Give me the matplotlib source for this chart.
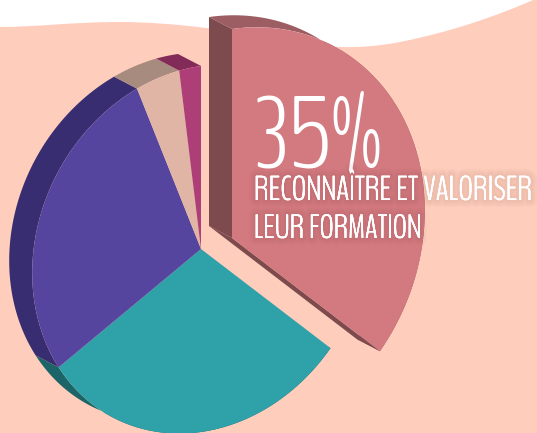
import numpy as np
import matplotlib
matplotlib.use("Agg")
import matplotlib.pyplot as plt
from matplotlib.path import Path
from matplotlib.patches import PathPatch
from matplotlib.transforms import Affine2D
import matplotlib.patheffects as pe

# data (clockwise from the top)
labels = ["Reconnaître et valoriser leur formation", "Teal", "Purple", "Beige", "Magenta"]
values = [35, 29, 27, 4, 2]
front_colors = ["#D37A80", "#2FA1A9", "#55459F", "#E0B5A5", "#AD3E78"]
side_colors = ["#9C5E62", "#1B6468", "#382D70", "#A68B7E", "#832B58"]
cut_color = "#7D4B4D"
big_text = "35%"
caption = ["RECONNAÎTRE ET VALORISER", "LEUR FORMATION"]

W, H = 537, 433
fig = plt.figure(figsize=(W / 100, H / 100), dpi=100, facecolor="white")
ax = fig.add_axes([0, 0, 1, 1])

wedges, _ = ax.pie(values, startangle=90, counterclock=False, radius=1,
                   colors=front_colors, wedgeprops=dict(linewidth=0))
ax.set_aspect("auto")
ax.set_xlim(0, W)
ax.set_ylim(H, 0)
ax.axis("off")

# tilted projection of the unit pie into pixel space
MX = np.array([[168.8, 0.0], [-23.8, -183.0]])
center = np.array([201.0, 249.0])
pink_center = np.array([232.0, 238.0])
pink_scale = 1.142
depth = np.array([-23.0, -12.0])


def project(xy, c, s):
    return (MX @ xy.T).T * s + c


def proj_tf(c, s):
    return Affine2D(np.array([[MX[0, 0] * s, MX[0, 1] * s, c[0]],
                              [MX[1, 0] * s, MX[1, 1] * s, c[1]],
                              [0, 0, 1]]))


# background
bg_verts = [(-2, 27), (40, 27), (70, 22), (120, 22), (170, 22), (230, 30), (280, 40),
            (320, 48), (360, 50), (400, 42), (450, 32), (495, 17), (540, -3),
            (540, 436), (-2, 436), (-2, 27)]
bg_codes = [Path.MOVETO] + [Path.CURVE4] * 12 + [Path.LINETO] * 2 + [Path.CLOSEPOLY]
ax.add_patch(PathPatch(Path(bg_verts, bg_codes), facecolor="#FFCDBB", edgecolor="none", zorder=0))

edges = np.cumsum([0] + values) / np.sum(values) * 2 * np.pi
for i, (a0, a1) in enumerate(zip(edges[:-1], edges[1:])):
    t = np.linspace(a0, a1, 120)
    unit = np.column_stack([np.sin(t), np.cos(t)])
    c, s = (pink_center, pink_scale) if i == 0 else (center, 1.0)
    arc = project(unit, c, s)
    poly = np.vstack([arc, (arc + depth)[::-1]])
    z = 3 if i == 0 else 1
    ax.fill(poly[:, 0], poly[:, 1], color=side_colors[i], lw=0, zorder=z)
    if i == 0:
        top, end = arc[0], arc[-1]
        ax.fill(*np.array([c, top, top + depth, c + depth]).T, color=cut_color, lw=0, zorder=z)
        ax.fill(*np.array([c, end, end + depth, c + depth]).T, color=cut_color, lw=0, zorder=z)
    wedges[i].set_transform(proj_tf(c, s) + ax.transData)
    wedges[i].set_zorder(4 if i == 0 else 2)

# text
font = ["BenchNine", "Antonio", "DejaVu Sans"]
glow = [pe.withStroke(linewidth=w, foreground="#5a3030", alpha=0.03) for w in (10, 7, 4)] + [pe.Normal()]
renderer = fig.canvas.get_renderer()


def fitted(x, y, s, width, size, effects=None):
    txt = ax.text(x, y, s, color="white", fontsize=size, family=font, weight=300,
                  ha="left", va="baseline", zorder=6)
    txt.set_fontsize(size * width / txt.get_window_extent(renderer).width)
    if effects:
        txt.set_path_effects(effects)
    return txt


fitted(254, 168, big_text, 129, 70)
fitted(254, 200, caption[0], 279, 25, glow)
fitted(254, 238, caption[1], 168, 25, glow)

fig.savefig("out.png", dpi=100, facecolor="white")
